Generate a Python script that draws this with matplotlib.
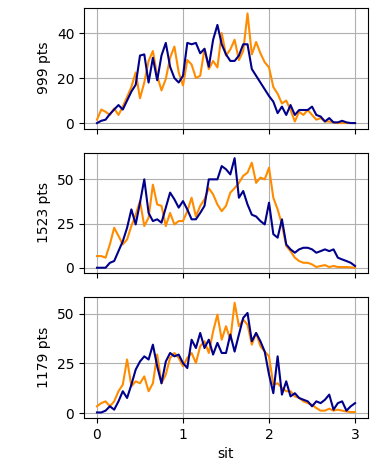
import numpy as np
import matplotlib
matplotlib.use("Agg")
import matplotlib.pyplot as plt

# bin centres along "sit"
sit = np.arange(61) * 0.05

# panel 1: 999 pts
p1_orange = [1.5, 6, 5, 3.6, 6.5, 3.6, 7.3, 11.6, 16, 22.5, 11, 18, 27.6, 32, 21, 14.5,
             19.6, 29, 34, 22.5, 16.7, 28, 26, 20, 21, 33, 24, 27.6, 24.7, 40, 30, 32.7,
             37, 28, 32, 48.7, 30.5, 36, 31, 27, 24.7, 16, 13, 8.7, 10, 5.8, 0.7, 5,
             3.6, 5.8, 3.6, 1.5, 2.2, 0.7, 0.7, 0.3, 0, 0, 0, 0, 0]
p1_blue = [0, 1, 1.5, 4, 6, 8, 6, 10, 14, 17, 30, 30.5, 18, 29, 19, 30,
           35.6, 25, 20, 18, 21, 35.6, 35, 35.6, 31, 33, 25, 37, 43.6, 35, 30.5, 27.6,
           27.6, 30, 35, 35, 24, 21, 18, 15, 12, 9.5, 4.4, 7.3, 3.6, 8, 3.6, 5.8,
           5.8, 5.8, 7.3, 3.6, 2.9, 0.7, 2.2, 0.3, 0.3, 1, 0.3, 0, 0]

# panel 2: 1523 pts
p2_orange = [6.6, 6.6, 5.7, 13.2, 22.6, 18, 13.2, 16, 23.6, 30, 37.7, 23.6, 28.3, 47, 35.8, 35,
             23.6, 31, 24.5, 26.4, 26.4, 32, 39.6, 29, 35, 38.7, 45, 41.5, 35.8, 32, 35, 42.5,
             45, 48, 52, 53.8, 59.4, 48, 51, 50, 56.6, 39.6, 33, 24.5, 12.3, 9.4, 5.7, 3.8,
             2.8, 2.8, 1.9, 0.4, 1, 1.5, 0.4, 1, 0.4, 0.4, 0.4, 0.2, 0]
p2_blue = [0, 0, 0, 2.8, 3.8, 9.4, 15, 22.6, 33, 24.5, 36.8, 50, 31, 26.4, 27.4, 25.5,
           34, 42.5, 38.7, 34, 37.7, 33, 27.4, 27.4, 31, 35, 50, 50, 50, 57.5, 55.7, 52.8,
           62, 39.6, 43.4, 35.8, 30, 29, 26.4, 24.5, 36.8, 19, 17, 27.4, 13.2, 10.4, 8.5, 10.4,
           11.3, 11.3, 10.4, 8.5, 9.4, 10.4, 9.4, 10.4, 5.7, 4.7, 3.8, 2.8, 1]

# panel 3: 1179 pts
p3_orange = [3.4, 5, 5.9, 3.4, 5.9, 11, 14.3, 27, 13.5, 16, 15, 18.5, 11, 15, 29.5, 15,
             19.4, 27.8, 30.3, 27.8, 23.6, 27.8, 30.3, 25.2, 33.7, 36.2, 30.3, 41.2, 49.7, 37, 43.8, 37,
             55.6, 43.8, 47.1, 44.6, 34.5, 40.4, 33.7, 31, 28.6, 14.3, 15, 12.6, 11, 11, 8.4, 7.6,
             5.9, 5, 4.2, 2.5, 1.2, 1.2, 2.2, 1.2, 1.7, 1.2, 0.8, 0.5, 0.5]
p3_blue = [0.3, 0.3, 1.2, 3.4, 1.7, 5.9, 11, 7.6, 14.3, 21.9, 26, 28.6, 27, 34.5, 23.6, 15,
           26, 30.3, 28.6, 29.5, 25.2, 22.7, 37, 32.8, 40.4, 32.8, 37, 29.5, 35.4, 30.3, 30.3, 39.6,
           31, 39.6, 48, 50.5, 36.2, 40.4, 36.2, 31, 19.4, 10, 28.6, 9.3, 16, 8.4, 10, 7.6,
           6.7, 5.9, 3.4, 5.9, 5, 6.7, 9.3, 1.7, 5, 5.9, 1.2, 3.4, 5]

labels = ["999 pts", "1523 pts", "1179 pts"]
orange = [p1_orange, p2_orange, p3_orange]
blue = [p1_blue, p2_blue, p3_blue]

fig, axes = plt.subplots(3, 1, figsize=(3.77, 4.68), dpi=100, sharex=True)
fig.subplots_adjust(left=0.223, right=0.976, top=0.983, bottom=0.107, hspace=0.2)

for ax, lab, yo, yb in zip(axes, labels, orange, blue):
    ax.plot(sit, yo, color="darkorange", lw=1.5)
    ax.plot(sit, yb, color="darkblue", lw=1.5)
    ax.set_ylabel(lab)
    ax.grid(True)

axes[0].set_yticks([0, 20, 40])
axes[1].set_yticks([0, 25, 50])
axes[2].set_yticks([0, 25, 50])
axes[2].set_xticks([0, 1, 2, 3])
axes[2].set_xlabel("sit")

plt.savefig("out.png")
